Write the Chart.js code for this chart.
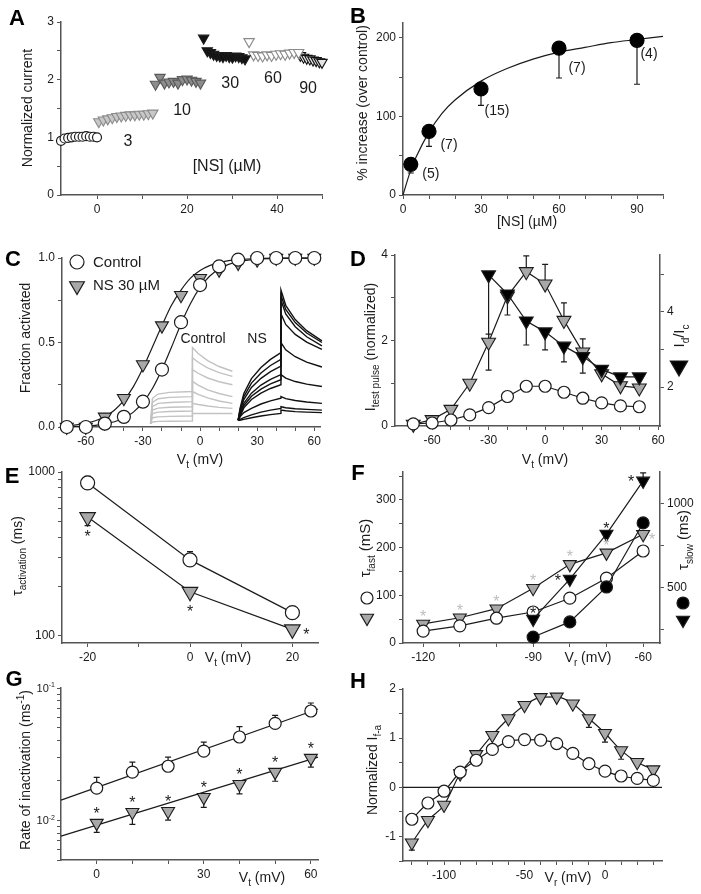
<!DOCTYPE html>
<html>
<head>
<meta charset="utf-8">
<script src="https://cdn.jsdelivr.net/npm/chart.js@4.4.0/dist/chart.umd.min.js"></script>
<style>
  body { margin: 0; background: #fff; width: 701px; height: 894px; position: relative; overflow: hidden; }
  canvas { position: absolute; }
</style>
</head>
<body>
<script>
// ---- A: time course of normalized current ----
const aCtrlX = [-8, -7.2, -6.4, -5.6, -4.8, -4, -3.2, -2.4, -1.6, -0.8, 0];
const aCtrlY = [0.94, 0.98, 0.99, 1.0, 1.01, 1.01, 1.01, 1.02, 1.01, 1.01, 1.0];
const a3X = [0.4, 1.4, 2.4, 3.4, 4.4, 5.4, 6.4, 7.4, 8.4, 9.4, 10.4, 11.4, 12.4];
const a3Y = [1.27, 1.30, 1.32, 1.34, 1.36, 1.37, 1.38, 1.39, 1.39, 1.40, 1.40, 1.41, 1.42];
const a10X = [13, 14, 15, 16, 17, 18, 19, 20, 21, 22, 23];
const a10Y = [1.92, 2.04, 1.94, 1.96, 1.97, 1.94, 2.0, 2.01, 1.99, 1.97, 1.94];
const a30X = [23.7, 24.5, 25.2, 25.9, 26.6, 27.3, 28.0, 28.7, 29.4, 30.1, 30.8, 31.5, 32.2, 32.9];
const a30Y = [2.72, 2.50, 2.47, 2.44, 2.42, 2.41, 2.40, 2.42, 2.40, 2.39, 2.41, 2.40, 2.38, 2.36];
const a60X = [33.8, 34.8, 35.8, 36.8, 37.8, 38.8, 39.8, 40.8, 41.8, 42.8, 43.8, 44.8];
const a60Y = [2.66, 2.43, 2.42, 2.41, 2.43, 2.42, 2.44, 2.45, 2.44, 2.46, 2.47, 2.47];
const a90X = [45.2, 45.9, 46.6, 47.3, 48.0, 48.7, 49.4, 50.0];
const a90Y = [2.42, 2.39, 2.37, 2.36, 2.34, 2.33, 2.31, 2.30];
const aDoses = ['3', '10', '30', '60', '90'];

// ---- B: dose response ----
const bX = [3, 10, 30, 60, 90];
const bY = [39, 81, 135, 187, 197];
const bErrLo = [28, 62, 114, 149, 141];
const bN = ['(5)', '(7)', '(15)', '(7)', '(4)'];
const bFitX = [0, 3, 5, 10, 15, 20, 30, 40, 50, 60, 70, 80, 90, 100];
const bFitY = [0, 32, 48, 80, 104, 121, 145, 161, 173, 182, 188, 194, 198, 202];

// ---- C: activation curves + inset traces ----
const cX = [-70, -60, -50, -40, -30, -20, -10, 0, 10, 20, 30, 40, 50, 60];
const cCtrl = [0.0, 0.0, 0.02, 0.06, 0.15, 0.34, 0.62, 0.84, 0.95, 0.99, 1.0, 1.0, 1.0, 1.0];
const cNS = [0.0, 0.0, 0.06, 0.17, 0.37, 0.60, 0.78, 0.88, 0.93, 0.97, 0.99, 1.0, 1.0, 1.0];
const cFitX = [-72, -65, -60, -55, -50, -45, -40, -35, -30, -25, -20, -15, -10, -5, 0, 5, 10, 15, 20, 30, 40, 63];
const cFitCtrl = [0.002, 0.003, 0.006, 0.010, 0.018, 0.031, 0.053, 0.088, 0.145, 0.228, 0.34, 0.472, 0.61, 0.731, 0.826, 0.892, 0.935, 0.962, 0.978, 0.993, 0.998, 1.0];
const cFitNS = [0.006, 0.013, 0.022, 0.037, 0.061, 0.099, 0.157, 0.239, 0.347, 0.474, 0.60, 0.72, 0.81, 0.881, 0.926, 0.955, 0.973, 0.984, 0.990, 0.997, 0.999, 1.0];
const cTrCtrlX = [-26, -25, -22, -16, -4, -4, -1, 4, 10, 17];
const cTrCtrl = [
  [0.02, 0.17, 0.195, 0.205, 0.21, 0.47, 0.435, 0.393, 0.358, 0.33],
  [0.02, 0.145, 0.167, 0.175, 0.18, 0.41, 0.383, 0.35, 0.322, 0.30],
  [0.02, 0.12, 0.14, 0.145, 0.15, 0.34, 0.318, 0.29, 0.268, 0.25],
  [0.02, 0.10, 0.112, 0.117, 0.12, 0.27, 0.248, 0.22, 0.198, 0.18],
  [0.02, 0.08, 0.088, 0.092, 0.095, 0.21, 0.193, 0.172, 0.154, 0.14],
  [0.02, 0.055, 0.06, 0.063, 0.065, 0.14, 0.133, 0.124, 0.116, 0.11],
  [0.02, 0.03, 0.033, 0.034, 0.035, 0.08, 0.08, 0.08, 0.08, 0.08]
];
const cTrNSX = [20, 21, 23, 27, 32, 37, 42.5, 42.5, 45, 50, 56, 64];
const cTrNS = [
  [0.04, 0.11, 0.198, 0.286, 0.352, 0.40, 0.44, 0.81, 0.72, 0.636, 0.57, 0.51],
  [0.04, 0.10, 0.18, 0.26, 0.32, 0.364, 0.40, 0.78, 0.696, 0.618, 0.556, 0.50],
  [0.04, 0.09, 0.162, 0.234, 0.288, 0.328, 0.36, 0.75, 0.669, 0.593, 0.534, 0.48],
  [0.04, 0.078, 0.14, 0.20, 0.248, 0.282, 0.31, 0.67, 0.607, 0.548, 0.502, 0.46],
  [0.04, 0.07, 0.126, 0.182, 0.224, 0.255, 0.28, 0.50, 0.457, 0.416, 0.384, 0.355],
  [0.04, 0.063, 0.113, 0.163, 0.20, 0.228, 0.25, 0.31, 0.289, 0.269, 0.254, 0.24],
  [0.04, 0.06, 0.085, 0.11, 0.136, 0.155, 0.17, 0.18, 0.168, 0.157, 0.148, 0.14],
  [0.04, 0.045, 0.055, 0.072, 0.088, 0.10, 0.11, 0.12, 0.114, 0.108, 0.104, 0.10],
  [0.04, 0.04, 0.045, 0.055, 0.065, 0.073, 0.08, 0.10, 0.096, 0.091, 0.088, 0.085]
];

// ---- D: test pulse current and ratio ----
const dX = [-70, -60, -50, -40, -30, -20, -10, 0, 10, 20, 30, 40, 50];
const dCtrl = [0.05, 0.07, 0.14, 0.26, 0.43, 0.69, 0.93, 0.93, 0.79, 0.65, 0.54, 0.47, 0.45];
const dNS = [0.04, 0.15, 0.39, 1.0, 1.96, 3.04, 3.61, 3.32, 2.47, 1.73, 1.22, 0.94, 0.89];
const dNSHi = [null, null, null, null, 2.15, null, 3.98, 3.78, 2.88, 2.04, null, null, null];
const dRatioX = [-30, -20, -10, 0, 10, 20, 30, 40, 50];
const dRatio = [4.99, 4.48, 3.76, 3.47, 3.09, 2.81, 2.47, 2.27, 2.27];
const dRatioLo = [2.45, 3.92, 3.12, 2.99, 2.67, 2.37, null, null, null];

// ---- E: activation time constant ----
const eX = [-20, 0, 20];
const eCtrl = [857, 290, 138];
const eCtrlHi = [940, 326, 150];
const eNS = [530, 185, 109];
const eNSLo = [470, null, null];

// ---- F: deactivation time constants ----
const fX = [-120, -110, -100, -90, -80, -70, -60];
const fFastCtrl = [25, 36, 52, 65, 94, 136, 193];
const fFastNS = [40, 53, 72, 115, 165, 189, 228];
const fSlowX = [-90, -80, -70, -60];
const fSlowCtrl = [208, 298, 506, 887];
const fSlowNS = [315, 553, 821, 1137];
const fSlowNSHi = [null, null, null, 1185];

// ---- G: rate of inactivation ----
const gX = [0, 10, 20, 30, 40, 50, 60];
const gCtrl = [0.0175, 0.0231, 0.0256, 0.0333, 0.0426, 0.054, 0.067];
const gCtrlHi = [0.0211, 0.0275, 0.030, 0.039, 0.051, 0.062, 0.077];
const gNS = [0.0095, 0.0115, 0.0117, 0.0149, 0.0187, 0.0231, 0.0295];
const gNSLo = [0.0081, 0.0093, 0.010, 0.0125, 0.0158, 0.0197, 0.0252];
const gFitX = [-10, 62];
const gFitCtrl = [0.0142, 0.0693];
const gFitNS = [0.00757, 0.030];

// ---- H: normalized I f-a ----
const hX = [-120, -110, -100, -90, -80, -70, -60, -50, -40, -30, -20, -10, 0, 10, 20, 30];
const hCtrl = [-0.65, -0.32, -0.08, 0.31, 0.55, 0.77, 0.93, 0.97, 0.96, 0.89, 0.69, 0.48, 0.33, 0.23, 0.18, 0.14];
const hNS = [-1.13, -0.67, -0.36, 0.28, 0.67, 1.06, 1.40, 1.67, 1.83, 1.84, 1.70, 1.40, 1.10, 0.75, 0.51, 0.36];
const hNSLo = [-1.28, null, null, null, null, null, null, null, null, null, null, 1.22, 0.92, 0.57, null, null];

// ---------- drawing helpers ----------
const FONT = '"Liberation Sans", Arial, Helvetica, sans-serif';
const INK = '#1b1b1b', AXIS = '#555', GRAY = '#a8a8a8';
Chart.defaults.font.family = FONT;
Chart.defaults.font.size = 12;
Chart.defaults.color = INK;
Chart.defaults.animation = false;
Chart.defaults.plugins.legend.display = false;
Chart.defaults.plugins.tooltip.enabled = false;
const UP = -Math.PI / 2;

const pts = (xs, ys) => xs.map((x, i) => ({ x, y: ys[i] })).filter(p => p.y != null);
const circ = (data, r, o) => Object.assign({ data, showLine: false, pointStyle: 'circle', pointRadius: r,
  pointBackgroundColor: '#fff', pointBorderColor: INK, pointBorderWidth: 1.2, borderColor: INK, borderWidth: 1.2, clip: false }, o || {});
const tri = (data, r, fill, o) => Object.assign({ data, showLine: false, pointStyle: 'triangle', pointRotation: 180, pointRadius: r,
  pointBackgroundColor: fill, pointBorderColor: INK, pointBorderWidth: 1.1, borderColor: INK, borderWidth: 1.2, clip: false }, o || {});
const line = (data, o) => Object.assign({ data, showLine: true, pointRadius: 0, borderColor: INK, borderWidth: 1.2, clip: false }, o || {});

function rich(ctx, segs, x, y, size, o) {
  o = o || {};
  ctx.save();
  ctx.translate(x, y);
  if (o.rot) ctx.rotate(o.rot);
  const parts = segs.map(s => Array.isArray(s) ? { t: s[0], k: s[1] } : { t: s, k: '' });
  const fnt = p => (o.bold ? 'bold ' : '') + (p.k ? Math.round(size * 0.68) : size) + 'px ' + FONT;
  let w = 0;
  for (const p of parts) { ctx.font = fnt(p); p.w = ctx.measureText(p.t).width; w += p.w; }
  let cx = o.align === 'left' ? 0 : o.align === 'right' ? -w : -w / 2;
  ctx.textAlign = 'left';
  ctx.textBaseline = 'alphabetic';
  ctx.fillStyle = o.color || INK;
  for (const p of parts) {
    ctx.font = fnt(p);
    const dy = p.k === 'sub' ? size * 0.28 : p.k === 'sup' ? -size * 0.42 : 0;
    ctx.fillText(p.t, cx, size * 0.36 + dy);
    cx += p.w;
  }
  ctx.restore();
}
const letter = (ctx, t, x, y) => rich(ctx, [t], x, y, 22, { bold: true, color: '#000' });

function star(ctx, x, y, size, color) {
  ctx.save();
  ctx.font = size + 'px ' + FONT;
  ctx.textAlign = 'center';
  ctx.textBaseline = 'alphabetic';
  ctx.fillStyle = color || INK;
  ctx.fillText('*', x, y + size * 0.57);
  ctx.restore();
}

function mark(ctx, style, x, y, r, fill, rot) {
  ctx.save();
  ctx.fillStyle = fill;
  ctx.strokeStyle = INK;
  ctx.lineWidth = 1.2;
  Chart.helpers.drawPoint(ctx, { pointStyle: style, radius: r, rotation: rot || 0, borderWidth: 1.2 }, x, y);
  ctx.restore();
}

function errs(ctx, P, xs, ys, ends, id) {
  ctx.save();
  ctx.strokeStyle = INK;
  ctx.lineWidth = 1.2;
  xs.forEach((x, i) => {
    if (ends[i] == null) return;
    const a = P(x, ys[i], id), b = P(x, ends[i], id);
    ctx.beginPath();
    ctx.moveTo(a[0], a[1]); ctx.lineTo(b[0], b[1]);
    ctx.moveTo(b[0] - 3, b[1]); ctx.lineTo(b[0] + 3, b[1]);
    ctx.stroke();
  });
  ctx.restore();
}

function axis(s, size, id) {
  return {
    type: s.type || 'linear',
    position: s.position || (id === 'x' ? 'bottom' : 'left'),
    min: s.min, max: s.max,
    afterBuildTicks: sc => { sc.ticks = s.ticks.filter(v => v >= s.min && v <= s.max).map(v => ({ value: v })); },
    afterFit: sc => { if (sc.isHorizontal()) sc.height = size; else sc.width = size; },
    ticks: {
      autoSkip: false, maxRotation: 0, minRotation: 0, padding: 3, color: INK, font: { size: 12, family: FONT },
      callback: v => s.major.includes(v) ? (s.fmt ? s.fmt(v) : String(v)) : ''
    },
    grid: { display: true, drawOnChartArea: false, drawTicks: true, tickLength: 4, color: AXIS, tickColor: AXIS, lineWidth: 1 },
    border: { display: true, color: AXIS, width: 1.5 }
  };
}

// box = [left, top, width, height] of the canvas, area = [L, T, R, B] of the plot, both in page pixels
function panel(box, area, scales, datasets, under, over) {
  const c = document.createElement('canvas');
  c.width = box[2]; c.height = box[3];
  c.style.left = box[0] + 'px'; c.style.top = box[1] + 'px';
  c.style.width = box[2] + 'px'; c.style.height = box[3] + 'px';
  document.body.appendChild(c);
  const sc = {};
  let hasRight = false;
  for (const id in scales) {
    const s = scales[id];
    let size;
    if (id === 'x') size = box[1] + box[3] - area[3];
    else if (s.position === 'right') { size = box[0] + box[2] - area[2]; hasRight = true; }
    else size = area[0] - box[0];
    sc[id] = axis(s, size, id);
  }
  const hook = fn => ch => {
    if (!fn) return;
    const ctx = ch.ctx;
    ctx.save();
    ctx.translate(-box[0], -box[1]);
    fn(ch, ctx, (x, y, id) => [ch.scales.x.getPixelForValue(x) + box[0], ch.scales[id || 'y'].getPixelForValue(y) + box[1]]);
    ctx.restore();
  };
  new Chart(c, {
    type: 'scatter',
    data: { datasets },
    options: {
      responsive: false,
      animation: false,
      layout: { padding: { left: 0, top: area[1] - box[1], bottom: 0, right: hasRight ? 0 : box[0] + box[2] - area[2] } },
      scales: sc
    },
    plugins: [{ id: 'deco', beforeDatasetsDraw: hook(under), afterDraw: hook(over) }]
  });
}

const range = (a, b, s) => { const r = []; for (let v = a; v <= b + 1e-9; v += s) r.push(Math.round(v * 1000) / 1000); return r; };

// ---------- A ----------
panel([0, 0, 350, 232], [61, 22, 322, 195], {
  x: { min: -8, max: 50, ticks: range(0, 50, 10), major: [0, 20, 40] },
  y: { min: 0, max: 3, ticks: range(0, 3, 0.5), major: [0, 1, 2, 3] }
}, [
  circ(pts(aCtrlX, aCtrlY), 4.5),
  tri(pts(a3X, a3Y), 6, '#c8c8c8', { pointBorderColor: '#8a8a8a' }),
  tri(pts(a10X, a10Y), 6, '#8c8c8c', { pointBorderColor: '#5a5a5a' }),
  tri(pts(a30X, a30Y), 6, '#111'),
  tri(pts(a60X, a60Y), 6, '#fff', { pointBorderColor: '#8a8a8a' }),
  tri(pts(a90X, a90Y), 6, '#e4e4e4', { pointBorderColor: '#111' })
], null, (ch, ctx, P) => {
  letter(ctx, 'A', 17, 17);
  rich(ctx, ['Normalized current'], 27, 108, 14, { rot: UP });
  const at = [[6.9, 0.95], [18.9, 1.49], [29.6, 1.96], [39.1, 2.05], [46.9, 1.87]];
  aDoses.forEach((t, i) => { const p = P(at[i][0], at[i][1]); rich(ctx, [t], p[0], p[1], 16); });
  const q = P(28.9, 0.52);
  rich(ctx, ['[NS] (µM)'], q[0], q[1], 16);
});

// ---------- B ----------
panel([350, 0, 351, 232], [403, 23, 663, 195], {
  x: { min: 0, max: 100, ticks: range(0, 100, 10), major: [0, 30, 60, 90] },
  y: { min: 0, max: 219, ticks: range(0, 200, 50), major: [0, 100, 200] }
}, [
  circ(pts(bX, bY), 7, { pointBackgroundColor: '#000', pointBorderColor: '#000' }),
  line(pts(bFitX, bFitY), { cubicInterpolationMode: 'monotone' })
], (ch, ctx, P) => errs(ctx, P, bX, bY, bErrLo), (ch, ctx, P) => {
  letter(ctx, 'B', 358, 15);
  rich(ctx, ['% increase (over control)'], 362, 103, 14, { rot: UP });
  rich(ctx, ['[NS] (µM)'], 527, 221, 14);
  const off = [[20, 9], [20, 13], [16, 21], [18, 19], [12, 13]];
  bN.forEach((t, i) => { const p = P(bX[i], bY[i]); rich(ctx, [t], p[0] + off[i][0], p[1] + off[i][1], 14); });
});

// ---------- C ----------
panel([0, 232, 350, 240], [62, 258, 320, 427], {
  x: { min: -72.5, max: 63, ticks: range(-70, 60, 10), major: [-60, -30, 0, 30, 60] },
  y: { min: 0, max: 1, ticks: range(0, 1, 0.25), major: [0, 0.5, 1], fmt: v => v.toFixed(1) }
}, [
  circ(pts(cX, cCtrl), 6.5),
  tri(pts(cX, cNS), 7.5, GRAY),
  line(pts(cFitX, cFitCtrl), { cubicInterpolationMode: 'monotone' }),
  line(pts(cFitX, cFitNS), { cubicInterpolationMode: 'monotone' }),
  ...cTrNS.map(r => line(pts(cTrNSX, r), { borderColor: '#111', borderWidth: 1.4 })),
  ...cTrCtrl.map(r => line(pts(cTrCtrlX, r), { borderColor: '#c2c2c2', borderWidth: 1.4 }))
], null, (ch, ctx, P) => {
  letter(ctx, 'C', 13, 258);
  rich(ctx, ['Fraction activated'], 25, 338, 14, { rot: UP });
  rich(ctx, ['V', ['t', 'sub'], ' (mV)'], 200, 459, 14);
  mark(ctx, 'circle', 77, 262, 7, '#fff');
  rich(ctx, ['Control'], 93, 262, 15, { align: 'left' });
  mark(ctx, 'triangle', 77, 286, 8.5, GRAY, 180);
  rich(ctx, ['NS 30 µM'], 93, 285, 15, { align: 'left' });
  rich(ctx, ['Control'], 203, 338, 14);
  rich(ctx, ['NS'], 257, 338, 14);
});

// ---------- D ----------
panel([350, 232, 351, 240], [395, 255, 660, 426], {
  x: { min: -79.7, max: 61, ticks: range(-70, 60, 10), major: [-60, -30, 0, 30, 60] },
  y: { min: 0, max: 4, ticks: range(0, 4, 1), major: [0, 2, 4] },
  y2: { position: 'right', min: 0.96, max: 5.52, ticks: range(2, 5, 1), major: [2, 4] }
}, [
  circ(pts(dX, dCtrl), 6, { showLine: true }),
  tri(pts(dRatioX, dRatio), 8, '#000', { showLine: true, yAxisID: 'y2' }),
  tri(pts(dX, dNS), 8, GRAY, { showLine: true })
], (ch, ctx, P) => {
  errs(ctx, P, dX, dNS, dNSHi);
  errs(ctx, P, dRatioX, dRatio, dRatioLo, 'y2');
}, (ch, ctx, P) => {
  letter(ctx, 'D', 358, 258);
  rich(ctx, ['I', ['test pulse', 'sub'], ' (normalized)'], 370, 347, 14, { rot: UP });
  rich(ctx, ['V', ['t', 'sub'], ' (mV)'], 545, 459, 14);
  rich(ctx, ['I', ['d', 'sub'], '/I', ['c', 'sub']], 679, 336, 15, { rot: UP });
  mark(ctx, 'triangle', 679, 366, 10, '#000', 180);
});

// ---------- E ----------
panel([0, 452, 350, 218], [62, 472, 318, 643], {
  x: { min: -25, max: 25, ticks: range(-20, 20, 10), major: [-20, 0, 20] },
  y: { type: 'logarithmic', min: 90, max: 1000, ticks: range(100, 1000, 100), major: [100, 1000] }
}, [
  circ(pts(eX, eCtrl), 7, { showLine: true }),
  tri(pts(eX, eNS), 9, GRAY, { showLine: true })
], (ch, ctx, P) => {
  errs(ctx, P, eX, eCtrl, eCtrlHi);
  errs(ctx, P, eX, eNS, eNSLo);
}, (ch, ctx, P) => {
  letter(ctx, 'E', 12, 475);
  rich(ctx, ['τ', ['activation', 'sub'], ' (ms)'], 17, 556, 14, { rot: UP });
  rich(ctx, ['V', ['t', 'sub'], ' (mV)'], 228, 657, 14);
  const off = [[0, 16], [0, 16], [14, 1]];
  eX.forEach((x, i) => { const p = P(x, eNS[i]); star(ctx, p[0] + off[i][0], p[1] + off[i][1], 16); });
});

// ---------- F ----------
panel([350, 452, 351, 218], [403, 472, 660, 643], {
  x: { min: -125.5, max: -55.4, ticks: range(-120, -60, 10), major: [-120, -90, -60] },
  y: { min: 0, max: 358.7, ticks: range(0, 350, 50), major: [0, 100, 200, 300] },
  y2: { position: 'right', min: 172.6, max: 1190, ticks: range(250, 1000, 250), major: [500, 1000] }
}, [
  circ(pts(fSlowX, fSlowCtrl), 6, { showLine: true, yAxisID: 'y2', pointBackgroundColor: '#000' }),
  tri(pts(fSlowX, fSlowNS), 7.5, '#000', { showLine: true, yAxisID: 'y2' }),
  circ(pts(fX, fFastCtrl), 6, { showLine: true }),
  tri(pts(fX, fFastNS), 7.5, GRAY, { showLine: true })
], (ch, ctx, P) => errs(ctx, P, fSlowX, fSlowNS, fSlowNSHi, 'y2'), (ch, ctx, P) => {
  letter(ctx, 'F', 358, 472);
  rich(ctx, ['τ', ['fast', 'sub'], ' (mS)'], 365, 548, 15, { rot: UP });
  mark(ctx, 'circle', 367, 598, 6, '#fff');
  mark(ctx, 'triangle', 367, 618, 7.5, GRAY, 180);
  rich(ctx, ['τ', ['slow', 'sub'], ' (ms)'], 683, 540, 15, { rot: UP });
  mark(ctx, 'circle', 683, 603, 6, '#000');
  mark(ctx, 'triangle', 683, 620, 7.5, '#000', 180);
  rich(ctx, ['V', ['r', 'sub'], ' (mV)'], 588, 657, 14);
  const go = fX.map((x, i) => i === fX.length - 1 ? [9, 2] : [0, -11]);
  fX.forEach((x, i) => { const p = P(x, fFastNS[i]); star(ctx, p[0] + go[i][0], p[1] + go[i][1], 16, '#bdbdbd'); });
  const bo = [[0, -9], [-12, -2], [0, -9], [-12, -3]];
  fSlowX.forEach((x, i) => { const p = P(x, fSlowNS[i], 'y2'); star(ctx, p[0] + bo[i][0], p[1] + bo[i][1], 16); });
});

// ---------- G ----------
panel([0, 666, 350, 228], [61, 688, 318, 860], {
  x: { min: -10, max: 62, ticks: range(0, 60, 10), major: [0, 30, 60] },
  y: { type: 'logarithmic', min: 0.005, max: 0.1,
       ticks: [0.005, 0.006, 0.007, 0.008, 0.009, 0.01, 0.02, 0.03, 0.04, 0.05, 0.06, 0.07, 0.08, 0.09, 0.1], major: [] }
}, [
  circ(pts(gX, gCtrl), 6),
  tri(pts(gX, gNS), 7.5, GRAY),
  line(pts(gFitX, gFitCtrl)),
  line(pts(gFitX, gFitNS))
], (ch, ctx, P) => {
  errs(ctx, P, gX, gCtrl, gCtrlHi);
  errs(ctx, P, gX, gNS, gNSLo);
}, (ch, ctx, P) => {
  letter(ctx, 'G', 14, 678);
  rich(ctx, ['Rate of inactivation (ms', ['-1', 'sup'], ')'], 25, 770, 14, { rot: UP });
  const t1 = P(0, 0.1), t2 = P(0, 0.01);
  rich(ctx, ['10', ['-1', 'sup']], 55, t1[1], 11, { align: 'right' });
  rich(ctx, ['10', ['-2', 'sup']], 55, t2[1], 11, { align: 'right' });
  rich(ctx, ['V', ['t', 'sub'], ' (mV)'], 262, 877, 14);
  gX.forEach((x, i) => { const p = P(x, gNS[i]); star(ctx, p[0], p[1] - 13, 16); });
});

// ---------- H ----------
panel([350, 666, 351, 228], [403, 689, 662, 861], {
  x: { min: -125.5, max: 35.4, ticks: range(-120, 30, 10), major: [-100, -50, 0] },
  y: { min: -1.5, max: 2, ticks: range(-1.5, 2, 0.5), major: [-1, 0, 1, 2] }
}, [
  circ(pts(hX, hCtrl), 6, { showLine: true, cubicInterpolationMode: 'monotone' }),
  tri(pts(hX, hNS), 7.5, GRAY, { showLine: true, cubicInterpolationMode: 'monotone' })
], (ch, ctx, P) => {
  const a = ch.chartArea, z = P(0, 0);
  ctx.save();
  ctx.strokeStyle = INK;
  ctx.lineWidth = 1.2;
  ctx.beginPath();
  ctx.moveTo(a.left + 350, z[1]); ctx.lineTo(a.right + 350, z[1]);
  ctx.stroke();
  ctx.restore();
  errs(ctx, P, hX, hNS, hNSLo);
}, (ch, ctx, P) => {
  letter(ctx, 'H', 358, 680);
  rich(ctx, ['Normalized I', ['f-a', 'sub']], 372, 770, 14, { rot: UP });
  rich(ctx, ['V', ['r', 'sub'], ' (mV)'], 568, 877, 14);
});
</script>
</body>
</html>
